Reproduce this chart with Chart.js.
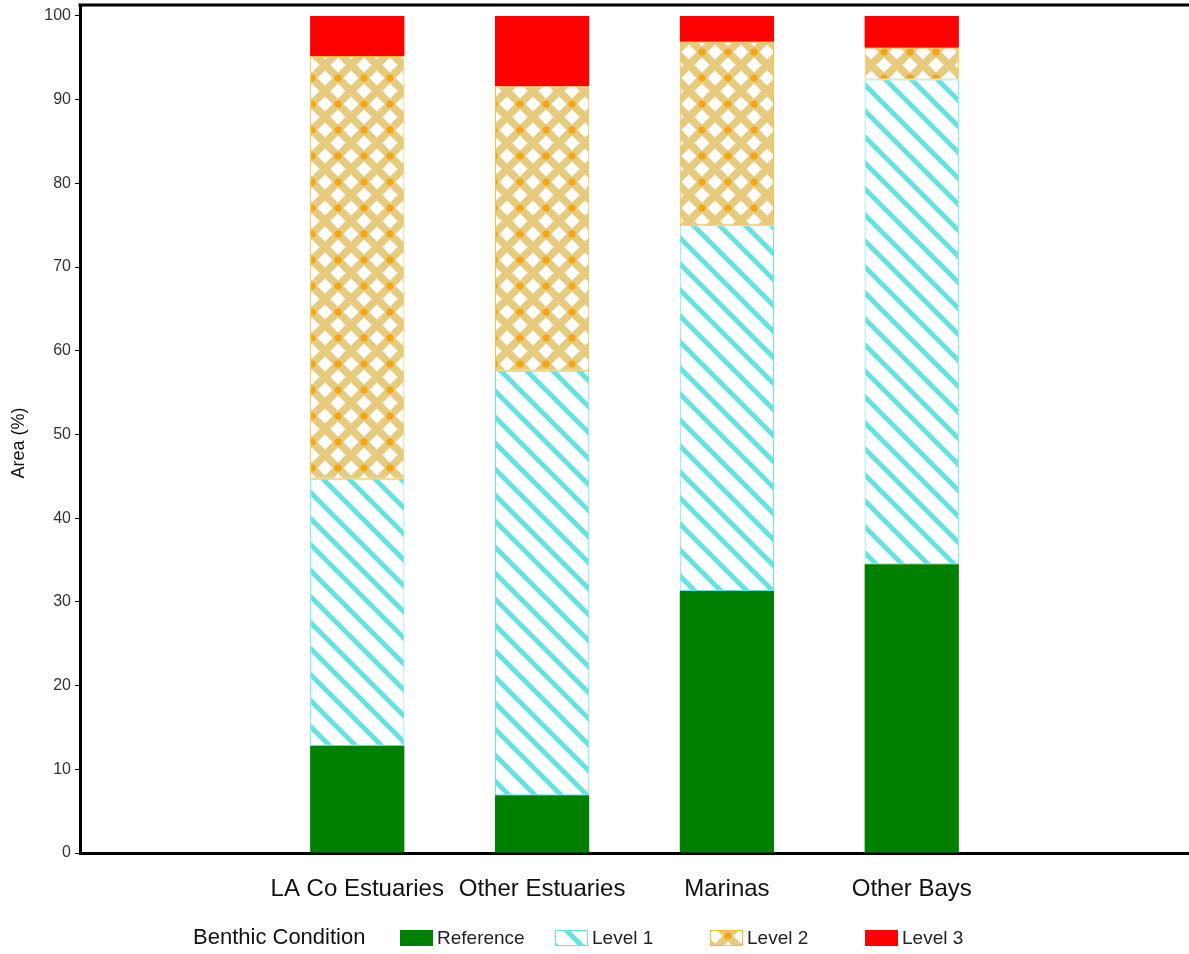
<!DOCTYPE html>
<html>
<head>
<meta charset="utf-8">
<script src="https://cdn.jsdelivr.net/npm/chart.js@4.4.1/dist/chart.umd.min.js"></script>
<style>
  html, body { margin: 0; padding: 0; background: #fff; }
  #wrap { width: 1189px; height: 954px; position: relative; }
</style>
</head>
<body>
<div id="wrap"><canvas id="benthicChart"></canvas></div>
<script>
// categories (first and last slots are empty in the original layout)
const categories = ['', 'LA Co Estuaries', 'Other Estuaries', 'Marinas', 'Other Bays', '']
const reference = [null, 12.8, 6.9, 31.3, 34.5, null]
const level1 = [null, 31.9, 50.7, 43.7, 57.9, null]
const level2 = [null, 50.5, 34.0, 21.9, 3.8, null]
const level3 = [null, 4.8, 8.4, 3.1, 3.8, null]
const yTicks = [0, 10, 20, 30, 40, 50, 60, 70, 80, 90, 100]
const seriesNames = ['Reference', 'Level 1', 'Level 2', 'Level 3']

const FONT = "'Liberation Sans', Arial, sans-serif"
const canvas = document.getElementById('benthicChart')
const ctx = canvas.getContext('2d')

function stripePattern() {
  const c = document.createElement('canvas')
  c.width = 26
  c.height = 26
  const g = c.getContext('2d')
  g.fillStyle = '#ffffff'
  g.fillRect(0, 0, 26, 26)
  g.strokeStyle = '#66e2e2'
  g.lineWidth = 5
  for (const o of [-26, 0, 26]) {
    g.beginPath()
    g.moveTo(o - 6, -6)
    g.lineTo(o + 32, 32)
    g.stroke()
  }
  return ctx.createPattern(c, 'repeat')
}

function latticePattern() {
  const c = document.createElement('canvas')
  c.width = 26
  c.height = 26
  const g = c.getContext('2d')
  g.fillStyle = '#e6ca7e'
  g.fillRect(0, 0, 26, 26)
  g.fillStyle = '#ffffff'
  const h = 7.6
  const diamonds = [[13, 0], [0, 13], [26, 13], [13, 26]]
  diamonds.forEach(([x, y]) => {
    g.beginPath()
    g.moveTo(x, y - h)
    g.lineTo(x + h, y)
    g.lineTo(x, y + h)
    g.lineTo(x - h, y)
    g.closePath()
    g.fill()
  })
  g.fillStyle = '#f5a512'
  const dots = [[0, 0], [26, 0], [0, 26], [26, 26]]
  dots.forEach(([x, y]) => {
    g.beginPath()
    g.arc(x, y, 3.6, 0, Math.PI * 2)
    g.fill()
  })
  return ctx.createPattern(c, 'repeat')
}

const fills = ['#008000', stripePattern(), latticePattern(), '#ff0000']
const borders = ['#008000', '#5fe3e3', '#f0bc38', '#ff0000']
const borderWidths = [0, 1, 1, 0]

const frameAndLegend = {
  id: 'frameAndLegend',
  afterDraw(chart) {
    const c = chart.ctx
    const area = chart.chartArea
    c.save()
    // top frame line
    c.strokeStyle = '#000'
    c.lineWidth = 3
    c.beginPath()
    c.moveTo(area.left - 1.5, area.top)
    c.lineTo(chart.width, area.top)
    c.stroke()

    // y axis title
    c.save()
    c.translate(19, 443)
    c.rotate(-Math.PI / 2)
    c.fillStyle = '#111'
    c.font = '18px ' + FONT
    c.textAlign = 'center'
    c.textBaseline = 'middle'
    c.fillText('Area (%)', 0, 0)
    c.restore()

    // legend
    const ly = 938
    c.fillStyle = '#111'
    c.font = '22px ' + FONT
    c.textBaseline = 'middle'
    c.textAlign = 'left'
    c.fillText('Benthic Condition', 193, ly)
    const boxX = [400, 555, 710, 865]
    seriesNames.forEach((name, i) => {
      c.fillStyle = fills[i]
      c.fillRect(boxX[i], ly - 8, 33, 16)
      if (borderWidths[i]) {
        c.strokeStyle = borders[i]
        c.lineWidth = 1
        c.strokeRect(boxX[i] + 0.5, ly - 7.5, 32, 15)
      }
      c.fillStyle = '#222'
      c.font = '19px ' + FONT
      c.fillText(name, boxX[i] + 37, ly + 1)
    })
    c.restore()
  }
}

const datasets = [reference, level1, level2, level3].map((values, i) => ({
  label: seriesNames[i],
  data: values,
  backgroundColor: fills[i],
  borderColor: borders[i],
  borderWidth: borderWidths[i],
  borderSkipped: false,
  barPercentage: 0.51,
  categoryPercentage: 1.0
}))

new Chart(ctx, {
  type: 'bar',
  data: { labels: categories, datasets },
  options: {
    responsive: true,
    maintainAspectRatio: false,
    animation: false,
    layout: { padding: { left: 0, right: 0, top: 5, bottom: 0 } },
    plugins: {
      legend: { display: false },
      tooltip: { enabled: false }
    },
    scales: {
      x: {
        stacked: true,
        grid: { display: false, drawTicks: false },
        border: { display: true, color: '#000', width: 3 },
        ticks: {
          color: '#111',
          font: { family: FONT, size: 24 },
          padding: 22,
          maxRotation: 0,
          autoSkip: false
        },
        afterFit(scale) {
          scale.height = 101
          scale.paddingLeft = 0
          scale.paddingRight = 0
        }
      },
      y: {
        stacked: true,
        min: 0,
        max: 101.3,
        grid: { display: true, drawOnChartArea: false, drawTicks: true, tickLength: 5, color: '#000' },
        border: { display: true, color: '#000', width: 3 },
        ticks: {
          color: '#333',
          font: { family: FONT, size: 16 },
          padding: 4
        },
        afterBuildTicks(scale) {
          scale.ticks = yTicks.map(v => ({ value: v }))
        },
        afterFit(scale) {
          scale.width = 80
          scale.paddingTop = 0
          scale.paddingBottom = 0
        }
      }
    }
  },
  plugins: [frameAndLegend]
})
</script>
</body>
</html>
